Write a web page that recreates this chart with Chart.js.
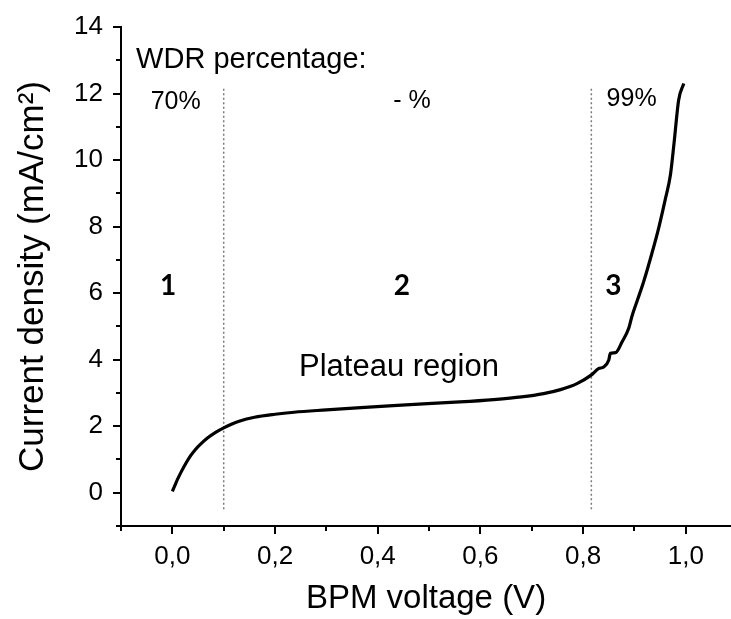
<!DOCTYPE html>
<html>
<head>
<meta charset="utf-8">
<script src="https://cdn.jsdelivr.net/npm/chart.js@4"></script>
<style>
  html,body{margin:0;padding:0;background:#fff;}
  #wrap{width:731px;height:619px;position:relative;}
</style>
</head>
<body>
<div id="wrap"><canvas id="c" width="731" height="619"></canvas></div>
<script>
// ---- data ----
const voltage = [0, 0.005, 0.01, 0.017, 0.025, 0.035, 0.045, 0.055, 0.069, 0.085, 0.1, 0.115, 0.13, 0.16, 0.2, 0.237, 0.3, 0.367, 0.43, 0.497, 0.56, 0.626, 0.68, 0.723, 0.756, 0.788, 0.817, 0.83, 0.84, 0.85, 0.853, 0.863, 0.876, 0.889, 0.895, 0.906, 0.918, 0.934, 0.947, 0.96, 0.97, 0.977, 0.986, 0.996];
const currentDensity = [0.04, 0.22, 0.4, 0.62, 0.85, 1.1, 1.3, 1.46, 1.65, 1.82, 1.95, 2.06, 2.15, 2.27, 2.36, 2.42, 2.49, 2.56, 2.62, 2.68, 2.73, 2.80, 2.88, 2.98, 3.10, 3.28, 3.55, 3.73, 3.78, 3.99, 4.19, 4.21, 4.54, 4.95, 5.3, 5.80, 6.35, 7.2, 7.95, 8.82, 9.55, 10.5, 11.8, 12.3];
const regionBoundaries = [0.1, 0.816];
const boundaryRange = [-0.5, 12.2];
const xTickValues = [-0.1, 0, 0.1, 0.2, 0.3, 0.4, 0.5, 0.6, 0.7, 0.8, 0.9, 1.0];
const yTickValues = [-1, 0, 1, 2, 3, 4, 5, 6, 7, 8, 9, 10, 11, 12, 13, 14];
const xLabelled = [0, 0.2, 0.4, 0.6, 0.8, 1.0];
const yLabelled = [0, 2, 4, 6, 8, 10, 12, 14];
const regionLabels = ['1', '2', '3'];
const wdrLabels = ['70%', '- %', '99%'];

// annotation placement (data coordinates)
const textNotes = [
  {text: 'WDR percentage:', x: -0.0706, y: 12.76, align: 'left', font: '29px "Liberation Sans", Arial, sans-serif'},
  {text: wdrLabels[0], x: 0.0066, y: 11.55, align: 'center', font: '25px "Liberation Sans", Arial, sans-serif'},
  {text: wdrLabels[1], x: 0.4667, y: 11.58, align: 'center', font: '25px "Liberation Sans", Arial, sans-serif'},
  {text: wdrLabels[2], x: 0.8944, y: 11.62, align: 'center', font: '25px "Liberation Sans", Arial, sans-serif'},
  {text: regionLabels[0], x: -0.008, y: 5.95, align: 'center', font: 'bold 28px Lato, "Open Sans", sans-serif'},
  {text: regionLabels[1], x: 0.447, y: 5.95, align: 'center', font: 'bold 28px Lato, "Open Sans", sans-serif'},
  {text: regionLabels[2], x: 0.859, y: 5.95, align: 'center', font: 'bold 28px Lato, "Open Sans", sans-serif'},
  {text: 'Plateau region', x: 0.4414, y: 3.52, align: 'center', font: '31px "Liberation Sans", Arial, sans-serif'}
];

const fmt = v => v.toFixed(1).replace('.', ',');
const near = (arr, v) => arr.some(a => Math.abs(a - v) < 1e-6);

const tickMarks = {
  id: 'tickMarks',
  afterDraw(chart) {
    const ctx = chart.ctx;
    const xs = chart.scales.x, ys = chart.scales.y;
    ctx.save();
    ctx.strokeStyle = '#000';
    ctx.lineWidth = 2;
    xs.ticks.forEach(t => {
      const px = Math.round(xs.getPixelForValue(t.value));
      const len = near(xLabelled, t.value) ? 8 : 5;
      ctx.beginPath(); ctx.moveTo(px, xs.top); ctx.lineTo(px, xs.top + len); ctx.stroke();
    });
    ys.ticks.forEach(t => {
      const py = Math.round(ys.getPixelForValue(t.value));
      const len = near(yLabelled, t.value) ? 8 : 5;
      ctx.beginPath(); ctx.moveTo(ys.right, py); ctx.lineTo(ys.right - len, py); ctx.stroke();
    });
    ctx.restore();
  }
};

const notes = {
  id: 'notes',
  afterDatasetsDraw(chart) {
    const ctx = chart.ctx;
    const xs = chart.scales.x, ys = chart.scales.y;
    ctx.save();
    ctx.fillStyle = '#000';
    ctx.textBaseline = 'alphabetic';
    textNotes.forEach(n => {
      ctx.font = n.font;
      ctx.textAlign = n.align;
      ctx.fillText(n.text, xs.getPixelForValue(n.x), ys.getPixelForValue(n.y));
    });
    ctx.restore();
  }
};

const curve = voltage.map((v, i) => ({x: v, y: currentDensity[i]}));
const boundaryDatasets = regionBoundaries.map(b => ({
  data: boundaryRange.map(y => ({x: b, y: y})),
  showLine: true,
  borderColor: '#7a7a7a',
  borderWidth: 1.5,
  borderDash: [2, 2.5],
  pointRadius: 0,
  fill: false
}));

new Chart(document.getElementById('c'), {
  type: 'scatter',
  data: {
    datasets: [
      {
        data: curve,
        showLine: true,
        borderColor: '#000',
        borderWidth: 3.2,
        pointRadius: 0,
        cubicInterpolationMode: 'monotone',
        fill: false
      },
      ...boundaryDatasets
    ]
  },
  options: {
    responsive: false,
    animation: false,
    events: [],
    layout: {padding: {top: 27, left: 0, right: 0, bottom: 0}},
    plugins: {legend: {display: false}, tooltip: {enabled: false}},
    scales: {
      x: {
        type: 'linear',
        min: -0.1,
        max: 1.088,
        afterBuildTicks: s => { s.ticks = xTickValues.map(v => ({value: v})); },
        afterFit: s => { s.height = 93; },
        grid: {display: true, drawOnChartArea: false, drawTicks: true, tickLength: 8, tickColor: 'rgba(0,0,0,0)'},
        border: {display: true, color: '#000', width: 2},
        ticks: {
          autoSkip: false, maxRotation: 0, padding: 7,
          color: '#000',
          font: {family: '"Liberation Sans", Arial, sans-serif', size: 26},
          callback: v => near(xLabelled, v) ? fmt(v) : ''
        },
        title: {
          display: true, text: 'BPM voltage (V)', color: '#000',
          font: {family: '"Liberation Sans", Arial, sans-serif', size: 33},
          padding: {top: 0, bottom: 0}
        }
      },
      y: {
        type: 'linear',
        min: -1,
        max: 14,
        afterBuildTicks: s => { s.ticks = yTickValues.map(v => ({value: v})); },
        afterFit: s => { s.width = 121; },
        grid: {display: true, drawOnChartArea: false, drawTicks: true, tickLength: 8, tickColor: 'rgba(0,0,0,0)'},
        border: {display: true, color: '#000', width: 2},
        ticks: {
          autoSkip: false, padding: 10,
          color: '#000',
          font: {family: '"Liberation Sans", Arial, sans-serif', size: 26},
          callback: v => near(yLabelled, v) ? String(Math.round(v)) : ''
        },
        title: {
          display: true, text: 'Current density (mA/cm²)', color: '#000',
          font: {family: '"Liberation Sans", Arial, sans-serif', size: 35},
          padding: {top: 12, bottom: 0}
        }
      }
    }
  },
  plugins: [tickMarks, notes]
});
</script>
</body>
</html>
